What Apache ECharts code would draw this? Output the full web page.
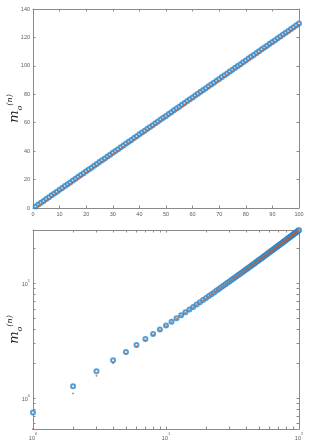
<!DOCTYPE html>
<html>
<head>
<meta charset="utf-8">
<script src="https://cdn.jsdelivr.net/npm/echarts@6/dist/echarts.min.js"></script>
<style>
  html, body { margin: 0; padding: 0; background: #fff; }
  #chart { width: 332px; height: 443px; }
</style>
</head>
<body>
<div id="chart"></div>
<script>
// x: n = 1..100
const nVals = [1,2,3,4,5,6,7,8,9,10,11,12,13,14,15,16,17,18,19,20,21,22,23,24,25,26,27,28,29,30,31,32,33,34,35,36,37,38,39,40,41,42,43,44,45,46,47,48,49,50,51,52,53,54,55,56,57,58,59,60,61,62,63,64,65,66,67,68,69,70,71,72,73,74,75,76,77,78,79,80,81,82,83,84,85,86,87,88,89,90,91,92,93,94,95,96,97,98,99,100]

// top panel (linear)
const topCircles = [1.1,2.4,3.7,5.0,6.3,7.6,8.9,10.2,11.5,12.8,14.1,15.4,16.7,18.0,19.3,20.6,21.9,23.2,24.5,25.8,27.1,28.4,29.7,31.0,32.3,33.6,34.9,36.2,37.5,38.8,40.1,41.4,42.7,44.0,45.3,46.6,47.9,49.2,50.5,51.8,53.1,54.4,55.7,57.0,58.3,59.6,60.9,62.2,63.5,64.8,66.1,67.4,68.7,70.0,71.3,72.6,73.9,75.2,76.5,77.8,79.1,80.4,81.7,83.0,84.3,85.6,86.9,88.2,89.5,90.8,92.1,93.4,94.7,96.0,97.3,98.6,99.9,101.2,102.5,103.8,105.1,106.4,107.7,109.0,110.3,111.6,112.9,114.2,115.5,116.8,118.1,119.4,120.7,122.0,123.3,124.6,125.9,127.2,128.5,129.8]
const topDots = [0.1,1.4,2.7,4.0,5.3,6.6,7.9,9.2,10.5,11.8,13.1,14.4,15.7,17.0,18.3,19.6,20.9,22.2,23.5,24.8,26.1,27.4,28.7,30.0,31.3,32.6,33.9,35.2,36.5,37.8,39.1,40.4,41.7,43.0,44.3,45.6,46.9,48.2,49.5,50.8,52.1,53.4,54.7,56.0,57.3,58.6,59.9,61.2,62.5,63.8,65.1,66.4,67.7,69.0,70.3,71.6,72.9,74.2,75.5,76.8,78.1,79.4,80.7,82.0,83.3,84.6,85.9,87.2,88.5,89.8,91.1,92.4,93.7,95.0,96.3,97.6,98.9,100.2,101.5,102.8,104.1,105.4,106.7,108.0,109.3,110.6,111.9,113.2,114.5,115.8,117.1,118.4,119.7,121.0,122.3,123.6,124.9,126.2,127.5,128.8]

// bottom panel (log-log)
const logCircles = [0.75,1.27,1.72,2.14,2.53,2.90,3.27,3.62,3.96,4.30,4.63,4.96,5.28,5.60,5.92,6.23,6.54,6.84,7.15,7.45,7.75,8.05,8.34,8.64,8.93,9.22,9.51,9.80,10.09,10.37,10.66,10.94,11.23,11.51,11.79,12.07,12.35,12.63,12.91,13.18,13.46,13.74,14.01,14.28,14.56,14.83,15.10,15.38,15.65,15.92,16.19,16.46,16.73,17.00,17.27,17.53,17.80,18.07,18.34,18.60,18.87,19.13,19.40,19.66,19.93,20.19,20.46,20.72,20.98,21.25,21.51,21.77,22.03,22.29,22.56,22.82,23.08,23.34,23.60,23.86,24.12,24.38,24.64,24.90,25.15,25.41,25.67,25.93,26.19,26.44,26.70,26.96,27.22,27.47,27.73,27.99,28.24,28.50,28.75,29.01]
const logDots = [0.54,1.10,1.57,2.02,2.43,2.82,3.20,3.56,3.91,4.25,4.59,4.92,5.24,5.56,5.88,6.19,6.50,6.80,7.11,7.41,7.71,8.01,8.30,8.60,8.89,9.18,9.47,9.76,10.05,10.33,10.62,10.90,11.19,11.47,11.75,12.03,12.31,12.59,12.87,13.14,13.42,13.70,13.97,14.24,14.52,14.79,15.06,15.34,15.61,15.88,16.15,16.42,16.69,16.96,17.23,17.49,17.76,18.03,18.30,18.56,18.83,19.09,19.36,19.62,19.89,20.15,20.42,20.68,20.94,21.21,21.47,21.73,21.99,22.25,22.52,22.78,23.04,23.30,23.56,23.82,24.08,24.34,24.60,24.86,25.11,25.37,25.63,25.89,26.15,26.40,26.66,26.92,27.18,27.43,27.69,27.95,28.20,28.46,28.71,28.97]

// tick positions for log axes
const logXTicks = [1,2,3,4,5,6,7,8,9,10,20,30,40,50,60,70,80,90,100]
const logXLabels = [1,10,100]
const logYTicks = [0.6,0.7,0.8,0.9,1,2,3,4,5,6,7,8,9,10,20]
const logYLabels = [1,10]

const blue = '#2a86ca'
const red = '#D95319'
const axisColor = '#8a8a8a'
const labelColor = '#5a5a5a'

const pairs = (ys) => nVals.map((x, i) => [x, ys[i]])

const baseAxis = {
  axisLine: { show: true, onZero: false, lineStyle: { color: axisColor, width: 1 } },
  axisTick: { show: true, inside: true, length: 2.5, lineStyle: { color: axisColor } },
  axisLabel: { color: labelColor, fontSize: 5.5, fontFamily: 'Liberation Sans', margin: 3 },
  splitLine: { show: false }
}

const supRich = {
  b: { fontSize: 5.5, color: labelColor, fontFamily: 'Liberation Sans', lineHeight: 9, verticalAlign: 'bottom' },
  e: { fontSize: 4, color: labelColor, fontFamily: 'Liberation Sans', lineHeight: 9, verticalAlign: 'top' }
}
const logFmt = (v) => '{b|10}{e|' + Math.round(Math.log10(v)) + '}'

// m_o^(n) as rich text
const yName = '{m|m}{o|o}{n|(n)}'
const nameRich = {
  m: { fontSize: 13, fontStyle: 'italic', fontFamily: 'DejaVu Serif', color: '#222', lineHeight: 18, verticalAlign: 'middle' },
  o: { fontSize: 8, fontStyle: 'italic', fontFamily: 'DejaVu Serif', color: '#222', lineHeight: 18, verticalAlign: 'bottom' },
  n: { fontSize: 8, fontStyle: 'italic', fontFamily: 'DejaVu Serif', color: '#222', lineHeight: 18, verticalAlign: 'top' }
}
const nameOpts = {
  name: yName, nameLocation: 'middle', nameGap: 9, nameRotate: 90, nameMoveOverlap: false,
  nameTextStyle: { rich: nameRich }
}

const chart = echarts.init(document.getElementById('chart'), null, { renderer: 'canvas' })

chart.setOption({
  animation: false,
  backgroundColor: '#fff',
  grid: [
    { left: 33, right: 33, top: 9, height: 199, containLabel: false, outerBoundsMode: 'none' },
    { left: 33, right: 33, top: 230, height: 199, containLabel: false, outerBoundsMode: 'none' }
  ],
  xAxis: [
    { ...baseAxis, type: 'value', gridIndex: 0, min: 0, max: 100, interval: 10 },
    { ...baseAxis, type: 'value', gridIndex: 0, min: 0, max: 100, interval: 10, position: 'top', axisLabel: { show: false } },
    { ...baseAxis, type: 'log', logBase: 10, gridIndex: 1, min: 1, max: 100,
      axisTick: { ...baseAxis.axisTick, customValues: logXTicks },
      axisLabel: { ...baseAxis.axisLabel, customValues: logXLabels, formatter: logFmt, rich: supRich } },
    { ...baseAxis, type: 'log', logBase: 10, gridIndex: 1, min: 1, max: 100, position: 'top',
      axisTick: { ...baseAxis.axisTick, customValues: logXTicks },
      axisLabel: { show: false } }
  ],
  yAxis: [
    { ...baseAxis, type: 'value', gridIndex: 0, min: 0, max: 140, interval: 20, ...nameOpts },
    { ...baseAxis, type: 'value', gridIndex: 0, min: 0, max: 140, interval: 20, position: 'right', axisLabel: { show: false } },
    { ...baseAxis, type: 'log', logBase: 10, gridIndex: 1, min: 0.54, max: 29.1,
      axisTick: { ...baseAxis.axisTick, customValues: logYTicks },
      axisLabel: { ...baseAxis.axisLabel, customValues: logYLabels, formatter: logFmt, rich: supRich },
      ...nameOpts },
    { ...baseAxis, type: 'log', logBase: 10, gridIndex: 1, min: 0.54, max: 29.1, position: 'right',
      axisTick: { ...baseAxis.axisTick, customValues: logYTicks },
      axisLabel: { show: false } }
  ],
  series: [
    { type: 'scatter', xAxisIndex: 0, yAxisIndex: 0, data: pairs(topCircles),
      symbol: 'emptyCircle', symbolSize: 4, itemStyle: { color: blue, borderColor: blue, borderWidth: 0.6 } },
    { type: 'scatter', xAxisIndex: 0, yAxisIndex: 0, data: pairs(topDots),
      symbol: 'circle', symbolSize: 1.8, itemStyle: { color: red } },
    { type: 'scatter', xAxisIndex: 2, yAxisIndex: 2, data: pairs(logCircles),
      symbol: 'emptyCircle', symbolSize: 4, itemStyle: { color: blue, borderColor: blue, borderWidth: 0.6 } },
    { type: 'scatter', xAxisIndex: 2, yAxisIndex: 2, data: pairs(logDots),
      symbol: 'circle', symbolSize: 1.8, itemStyle: { color: red } }
  ]
})
</script>
</body>
</html>
